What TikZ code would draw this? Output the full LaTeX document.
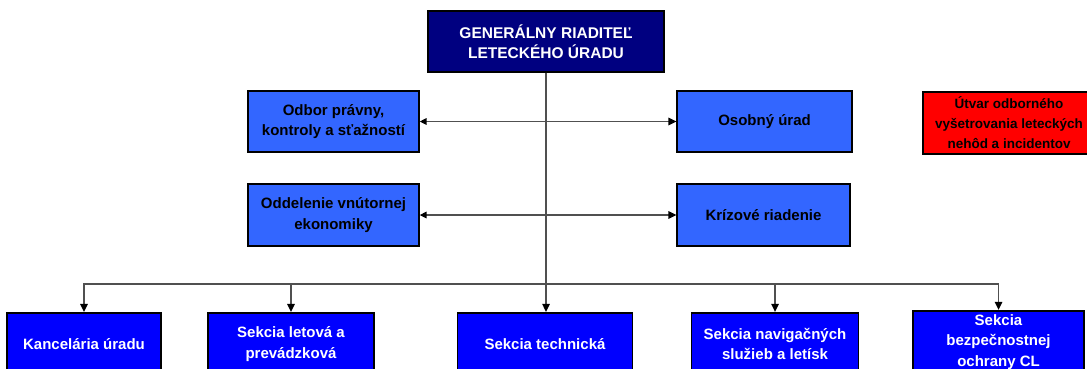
\documentclass[tikz,border=0pt]{standalone}
\usepackage{fontspec}
\setmainfont{Liberation Sans}
\usetikzlibrary{arrows.meta}
\definecolor{navybox}{HTML}{000080}
\definecolor{midbox}{HTML}{3366FF}
\definecolor{lowbox}{HTML}{0000FF}
\definecolor{redbox}{HTML}{FF0000}
\definecolor{linegray}{HTML}{505050}
\begin{document}
\begin{tikzpicture}[x=1pt,y=-1pt,
  box/.style={draw=black, line width=1.3pt, minimum height=62pt, inner sep=0pt, align=center,
    font=\bfseries\fontsize{15}{20.5}\selectfont},
  topbox/.style={box, fill=navybox, text=white, minimum height=61pt, font=\bfseries\fontsize{15.5}{20.5}\selectfont},
  midnode/.style={box, fill=midbox, text=black},
  lownode/.style={box, fill=lowbox, text=white},
  rednode/.style={box, fill=redbox, text=black, font=\bfseries\fontsize{13.5}{20}\selectfont},
  conn/.style={draw=linegray, line width=1.4pt},
  arr/.style={conn, -{Triangle[length=8pt,width=7.5pt,color=black]}, shorten >=0.5pt},
  biarr/.style={conn, {Triangle[length=7pt,width=6.5pt,color=black]}-{Triangle[length=8pt,width=7.5pt,color=black]}}
]
\useasboundingbox (0,0) rectangle (1087,369);

\node[topbox, minimum width=236pt] (gr) at (546,41.5) {GENERÁLNY RIADITEĽ\\LETECKÉHO ÚRADU};

\node[midnode, minimum width=171pt, minimum height=61pt] (op) at (333.5,121.5) {Odbor právny,\\kontroly a sťažností};
\node[midnode, minimum width=171pt] (ov) at (333.5,215) {Oddelenie vnútornej\\ekonomiky};
\node[midnode, minimum width=175pt, minimum height=61pt] (ou) at (764.5,121.5) {Osobný úrad};
\node[midnode, minimum width=173pt] (kr) at (763.5,215) {Krízové riadenie};

\node[rednode, minimum width=172pt] (ut) at (1009,123) {Útvar odborného\\vyšetrovania leteckých\\nehôd a incidentov};

\node[lownode, minimum width=154pt] (b1) at (84,344) {Kancelária úradu};
\node[lownode, minimum width=166pt] (b2) at (291,344) {Sekcia letová a\\prevádzková};
\node[lownode, minimum width=175pt] (b3) at (545,344) {Sekcia technická};
\node[lownode, minimum width=167pt] (b4) at (775,344) {Sekcia navigačných\\služieb a letísk};
\node[lownode, minimum width=171pt, font=\bfseries\fontsize{15}{20.5}\selectfont] (b5) at (998.5,342) {Sekcia\\bezpečnostnej\\ochrany CL};

\coordinate (hub) at (546,284);

\draw[arr] (gr.south) -- (gr.south |- b3.north);
\draw[arr] (hub) -| (b1.north);
\draw[arr] (hub) -| (b2.north);
\draw[arr] (hub) -| (b4.north);
\draw[arr] (hub) -| (b5.north);

\draw[biarr] (op.east) -- (ou.west);
\draw[biarr] (ov.east) -- (kr.west);
\end{tikzpicture}
\end{document}
